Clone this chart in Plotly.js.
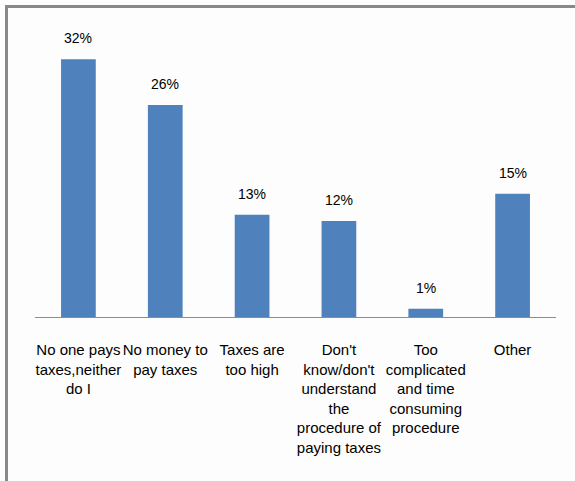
<!DOCTYPE html>
<html>
<head>
<meta charset="utf-8">
<script src="https://cdn.plot.ly/plotly-3.0.1.min.js"></script>
<style>
  html, body { margin: 0; padding: 0; background: #fdfdfd; }
  #wrap { position: relative; width: 575px; height: 481px; }
  #chart { width: 575px; height: 481px; }
  #frame { position: absolute; left: 5px; top: 5px; right: 0; bottom: 0;
           border-top: 3px solid #898989; border-left: 3px solid #898989;
           pointer-events: none; }
</style>
</head>
<body>
<div id="wrap">
  <div id="chart"></div>
  <div id="frame"></div>
</div>
<script>
const categories = [
  "No one pays<br>taxes,neither<br>do I",
  "No money to<br>pay taxes",
  "Taxes are<br>too high",
  "Don't<br>know/don't<br>understand<br>the<br>procedure of<br>paying taxes",
  "Too<br>complicated<br>and time<br>consuming<br>procedure",
  "Other"
];
const values = [0.32, 0.263, 0.127, 0.119, 0.0103, 0.153];
const valueLabels = ["32%", "26%", "13%", "12%", "1%", "15%"];

const trace = {
  type: "bar",
  x: categories,
  y: values,
  marker: { color: "#4F81BD" },
  hoverinfo: "none"
};

const annotations = categories.map((c, i) => ({
  x: c, y: values[i], xref: "x", yref: "y",
  text: valueLabels[i], showarrow: false,
  yanchor: "middle", yshift: 21,
  font: { family: "Liberation Sans, Arial, sans-serif", size: 14, color: "#000" }
}));

const layout = {
  width: 575, height: 481,
  margin: { l: 35, r: 19, t: 35, b: 164 },
  paper_bgcolor: "#fdfdfd",
  plot_bgcolor: "#fdfdfd",
  bargap: 0.6,
  showlegend: false,
  xaxis: {
    type: "category",
    showline: true, linecolor: "#8c8c8c", linewidth: 1,
    ticks: "", showgrid: false, zeroline: false,
    tickangle: 0, automargin: false,
    ticklabelstandoff: 19,
    tickfont: { family: "Liberation Sans, Arial, sans-serif", size: 15, color: "#000" },
    fixedrange: true
  },
  yaxis: {
    range: [0, 0.35], visible: false, showgrid: false, zeroline: false,
    fixedrange: true
  },
  annotations: annotations
};

Plotly.newPlot("chart", [trace], layout, { displayModeBar: false, staticPlot: true });
</script>
</body>
</html>
